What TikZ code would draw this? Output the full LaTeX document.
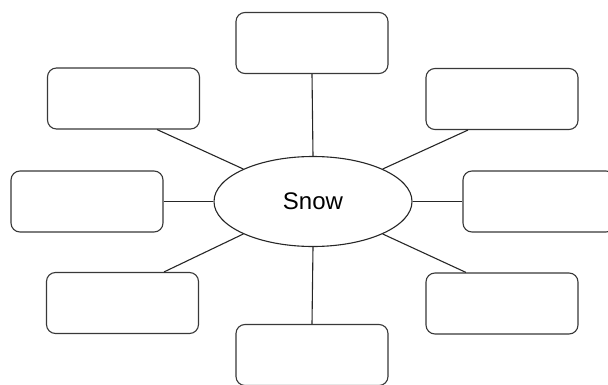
\documentclass[tikz,border=0pt]{standalone}
\usepackage{fontspec}
\setmainfont{Liberation Sans}
\usetikzlibrary{shapes.geometric}
\begin{document}
\begin{tikzpicture}[x=1pt,y=1pt,
  infobox/.style={draw=black!78, line width=1.1pt, rounded corners=9pt,
    minimum width=152pt, minimum height=61pt, inner sep=0pt},
  hub/.style={draw=black!85, line width=1.1pt, ellipse, minimum width=198pt,
    minimum height=90pt, inner sep=0pt, font=\fontsize{24}{28}\selectfont},
  spoke/.style={draw=black!85, line width=1.1pt}]
  \useasboundingbox (0,0) rectangle (608,384);
  \node[hub] (snow) at (313,182.5) {Snow};
  \node[infobox] (top) at (312,341) {};
  \node[infobox] (ul) at (123.5,285.5) {};
  \node[infobox] (ur) at (502,285) {};
  \node[infobox] (l) at (87,182.5) {};
  \node[infobox] (r) at (539,182.5) {};
  \node[infobox] (ll) at (122.5,81) {};
  \node[infobox] (lr) at (502,80.5) {};
  \node[infobox] (bot) at (312,29) {};
  \draw[spoke] (top.south) -- (snow.north);
  \draw[spoke] (snow.south) -- (bot.north);
  \draw[spoke] (l.east) -- (snow.west);
  \draw[spoke] (snow.east) -- (r.west);
  \draw[spoke] ([xshift=33.5pt]ul.south) -- (snow.155);
  \draw[spoke] ([xshift=-34pt]ur.south) -- (snow.25);
  \draw[spoke] ([xshift=41.5pt]ll.north) -- (snow.205);
  \draw[spoke] ([xshift=-36pt]lr.north) -- (snow.335);
\end{tikzpicture}
\end{document}
